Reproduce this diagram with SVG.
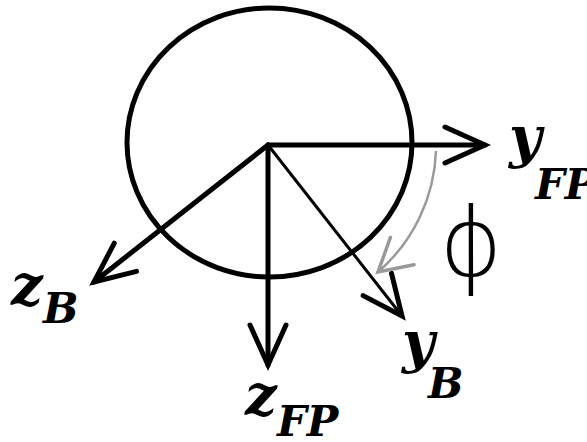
<svg xmlns="http://www.w3.org/2000/svg" width="587" height="442" viewBox="0 0 587 442">
<style>
.ax{fill:none;stroke:#000;stroke-width:5;stroke-linecap:round}
.thin{fill:none;stroke:#000;stroke-width:3}
.arc{fill:none;stroke:#999;stroke-width:2.5}
.lbl{font-family:"DejaVu Serif",serif;font-weight:bold;font-style:italic;fill:#000}
.m{font-size:56px}
.s{font-size:42px}
.phi{font-family:"DejaVu Sans",sans-serif;font-weight:200;font-size:96px;fill:#000}
</style>
<defs>
<marker id="ah" markerUnits="userSpaceOnUse" orient="auto" markerWidth="60" markerHeight="60" viewBox="-50 -30 60 60" refX="0" refY="0" overflow="visible">
<path d="M-40,-18 L0,0 L-40,18" fill="none" stroke="#000" stroke-width="5" stroke-linecap="round" stroke-linejoin="miter"/>
</marker>
<marker id="ahg" markerUnits="userSpaceOnUse" orient="auto" markerWidth="50" markerHeight="50" viewBox="-40 -25 50 50" refX="0" refY="0" overflow="visible">
<path d="M-32,-18 L0,0 L-32,18" fill="none" stroke="#999" stroke-width="3.5" stroke-linecap="round"/>
</marker>
</defs>
<g id="body">
<ellipse cx="269.5" cy="142.5" rx="142.5" ry="134.5" fill="none" stroke="#000" stroke-width="5"/>
</g>
<g id="connectors">
<path class="ax" d="M268,145 L485,145" marker-end="url(#ah)"/>
<path class="ax" d="M268,145 L268,365" marker-end="url(#ah)"/>
<path class="ax" d="M268,145 L94,282" marker-end="url(#ah)"/>
<path class="thin" d="M268,145 L402,316" marker-end="url(#ah)"/>
<path class="arc" d="M436,151 A168,168 0 0 1 378,272" marker-end="url(#ahg)"/>
</g>
<g id="label-yFP">
<text class="lbl m" x="509" y="157">y</text>
<text class="lbl s" x="535" y="199">FP</text>
</g>
<g id="label-zB">
<text class="lbl m" x="11" y="305">z</text>
<text class="lbl s" x="43" y="323">B</text>
</g>
<g id="label-yB">
<text class="lbl m" x="402" y="362">y</text>
<text class="lbl s" x="428" y="398">B</text>
</g>
<g id="label-zFP">
<text class="lbl m" x="245" y="415">z</text>
<text class="lbl s" x="277" y="436">FP</text>
</g>
<g id="label-phi">
<text class="phi" x="471" y="276" text-anchor="middle">ϕ</text>
</g>
</svg>
